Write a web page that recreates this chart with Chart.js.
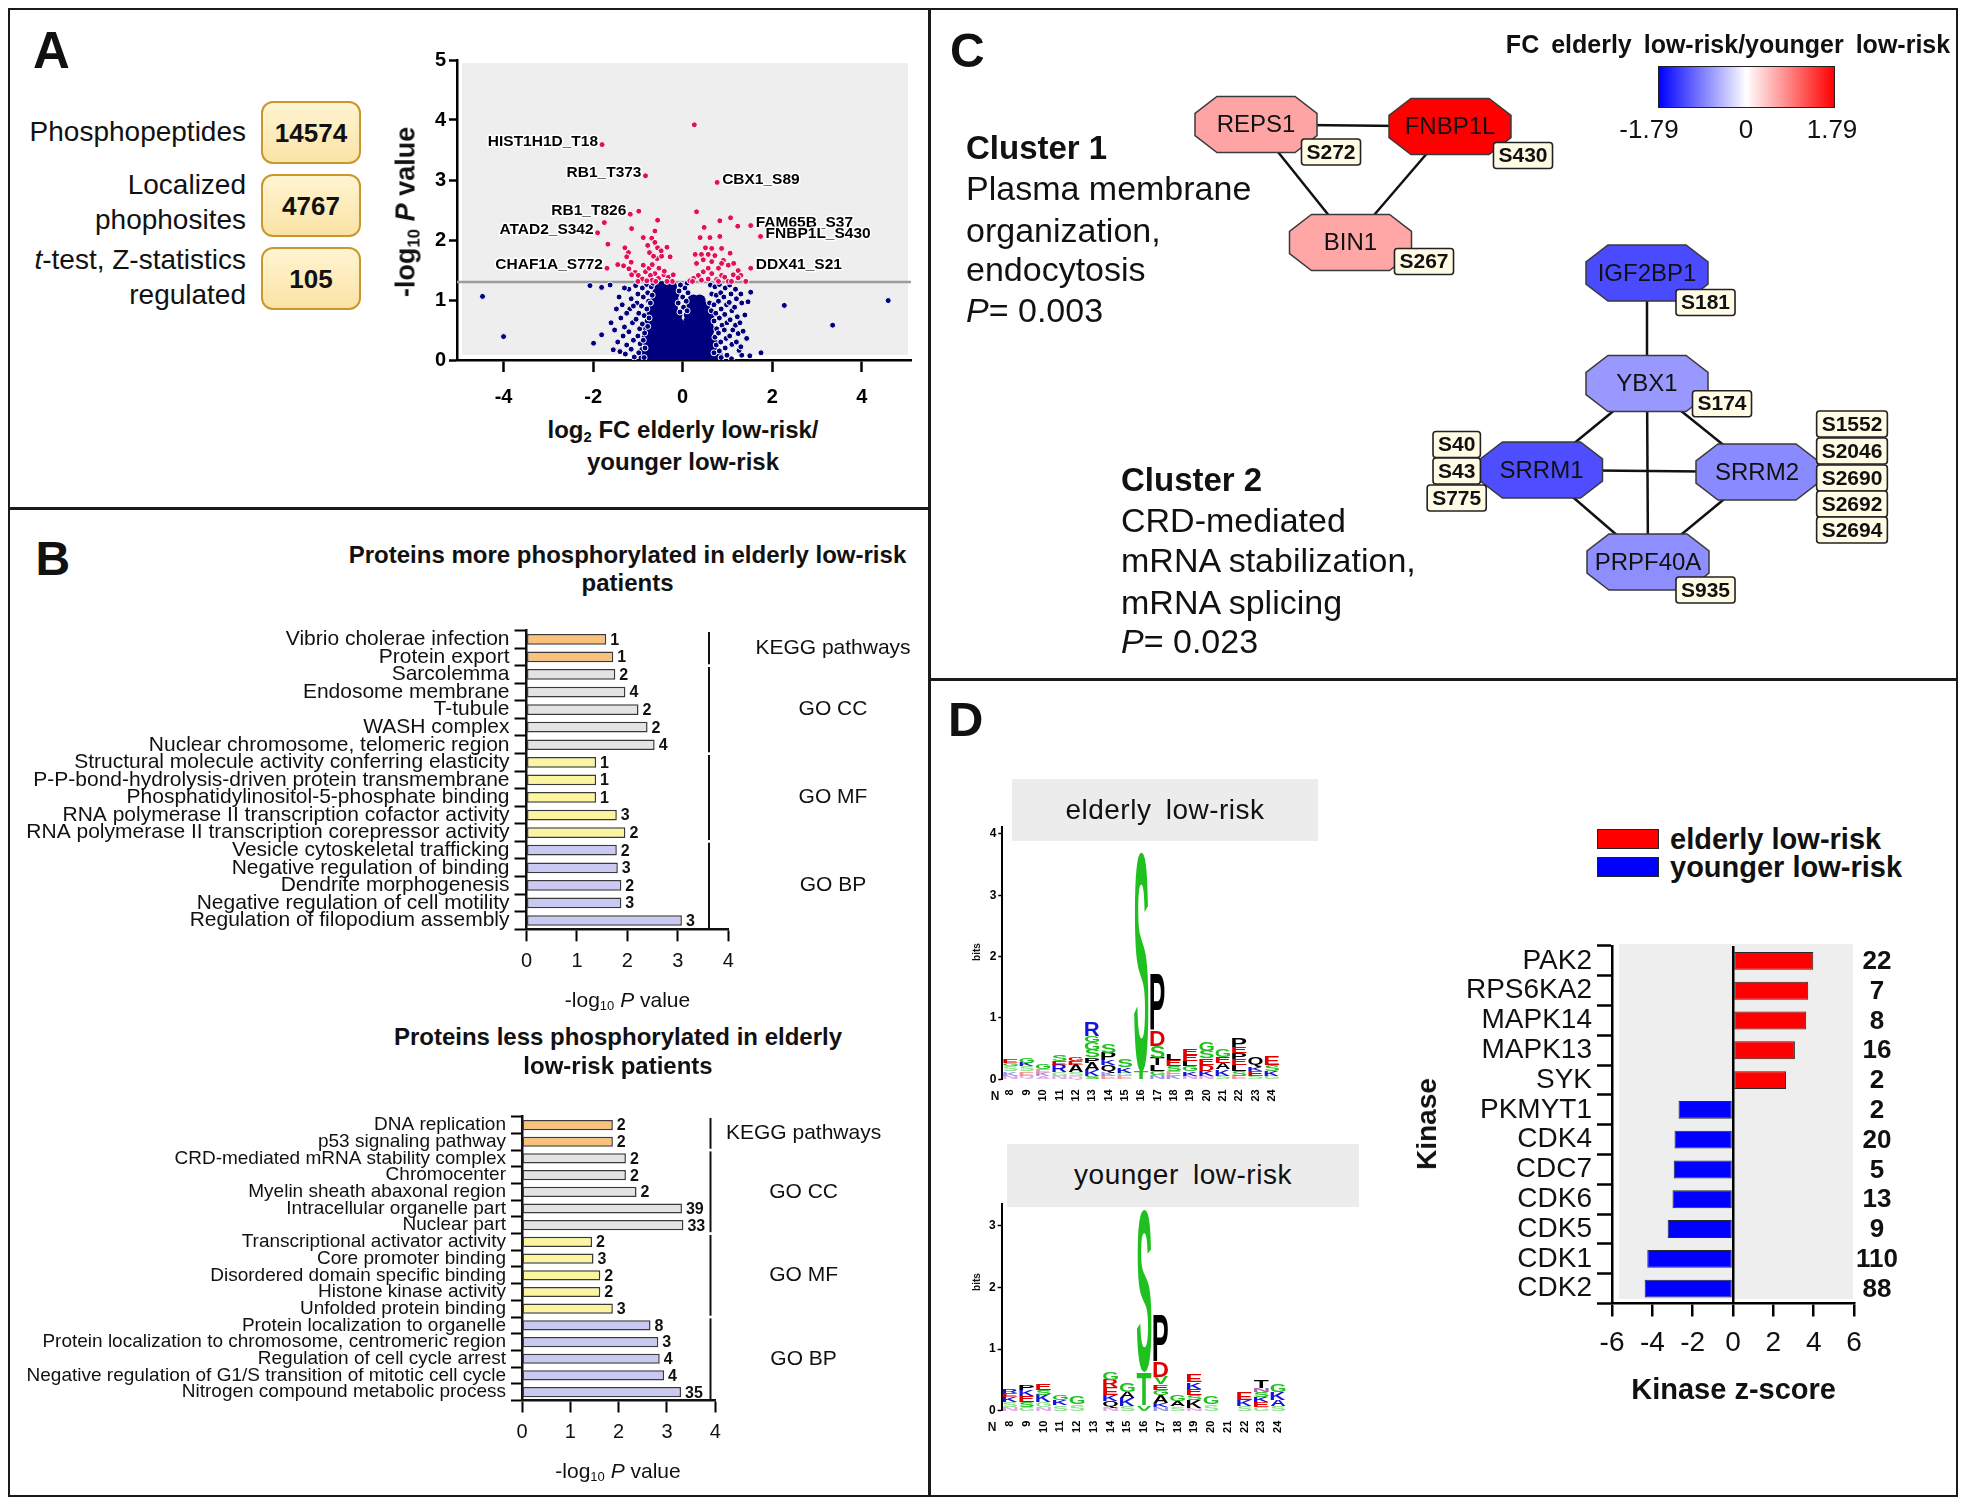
<!DOCTYPE html>
<html>
<head>
<meta charset="utf-8">
<title>Phosphoproteome figure</title>
<script src="https://cdn.jsdelivr.net/npm/chart.js@4.4.1/dist/chart.umd.min.js"></script>
<style>
  html, body { margin: 0; padding: 0; background: #fff; }
  body { position: relative; width: 1965px; height: 1506px; overflow: hidden; font-family: "Liberation Sans", Arial, sans-serif; color: #111; }
  canvas { position: absolute; }
  .t { position: absolute; white-space: nowrap; line-height: 1; }
  .t sub { font-size: 0.62em; vertical-align: -0.28em; line-height: 0; }
  .line { position: absolute; background: #1a1a1a; }
  .cnt { position: absolute; box-sizing: border-box; border: 2px solid #c8972e; border-radius: 12px; background: linear-gradient(#fff4d2, #fbe3a6); }
  .hdr { position: absolute; background: #ececec; }
  .key { position: absolute; box-sizing: border-box; border: 1.5px solid #222; }
</style>
</head>
<body>
<div style="position:absolute;left:8px;top:8px;width:1950px;height:1489px;box-sizing:border-box;border:2.5px solid #1a1a1a"></div>
<div class="line" style="left:928px;top:8px;width:2.5px;height:1489px"></div>
<div class="line" style="left:8px;top:507px;width:921px;height:2.5px"></div>
<div class="line" style="left:929px;top:678px;width:1029px;height:2.5px"></div>

<div class="cnt" style="left:261px;top:101px;width:100px;height:63px"></div>
<div class="cnt" style="left:261px;top:174px;width:100px;height:63px"></div>
<div class="cnt" style="left:261px;top:247px;width:100px;height:63px"></div>

<div class="hdr" style="left:1012px;top:779px;width:306px;height:62px"></div>
<div class="hdr" style="left:1007px;top:1144px;width:352px;height:63px"></div>

<div class="key" style="left:1658px;top:66px;width:177px;height:42px;background:linear-gradient(to right,#0000ff,#ffffff,#ff0000)"></div>
<div class="key" style="left:1597px;top:829px;width:62px;height:20px;background:#ff0000"></div>
<div class="key" style="left:1597px;top:857px;width:62px;height:20px;background:#0000ff"></div>

<canvas id="volcano" width="545" height="370" style="left:380px;top:45px"></canvas>
<canvas id="goUp" width="913" height="410" style="left:12px;top:600px"></canvas>
<canvas id="goDown" width="913" height="410" style="left:12px;top:1085px"></canvas>
<canvas id="network" width="1024" height="665" style="left:931px;top:12px"></canvas>
<canvas id="logo1" width="340" height="295" style="left:960px;top:815px"></canvas>
<canvas id="logo2" width="340" height="250" style="left:960px;top:1195px"></canvas>
<canvas id="kinase" width="515" height="500" style="left:1440px;top:920px"></canvas>

<script>
// ---- Panel A: counts ----
const countLabels = [['Phosphopeptides'], ['Localized', 'phophosites'], ['<i>t</i>-test, Z-statistics', 'regulated']];
const countValues = ['14574', '4767', '105'];

// ---- Panel A: volcano plot (log2 FC, -log10 P) ----
const volcanoXTicks = [-4, -2, 0, 2, 4];
const pThreshold = 1.3;
const sigPoints = [
  [0.26,3.92],[-1.80,3.59],[-0.83,3.07],[0.77,2.96],[-1.17,2.43],[-0.98,2.48],[0.31,2.47],[-0.56,2.33],
  [-1.75,2.29],[-1.90,2.12],[-1.67,1.93],[-1.69,1.53],[-1.14,2.19],[-0.62,2.15],[-0.88,2.04],[-0.69,2.03],
  [-0.62,1.96],[-0.78,1.91],[-0.56,1.87],[-0.74,1.79],[-1.29,1.87],[-1.21,1.79],[-1.25,1.72],[-1.15,1.63],
  [-1.32,1.57],[-1.20,1.52],[-1.06,1.46],[-0.99,1.41],[-0.90,1.35],[-0.83,1.47],[-0.75,1.53],[-0.68,1.59],
  [-0.57,1.69],[-0.47,1.73],[-0.35,1.88],[-0.28,1.72],[-0.53,1.53],[-0.62,1.44],[-0.72,1.41],[-0.68,1.33],
  [-0.54,1.36],[-0.42,1.42],[-0.32,1.38],[-0.23,1.31],[-0.35,1.31],[-0.60,1.31],[-0.80,1.32],[-1.00,1.31],
  [-1.14,1.42],[-0.88,1.58],[-0.65,1.73],[-0.48,1.82],[-1.45,1.59],[-0.41,1.48],[-0.21,1.42],
  [0.48,2.21],[0.83,2.32],[1.07,2.37],[1.23,2.23],[1.52,2.24],[1.74,2.06],[0.39,2.04],[0.61,2.04],
  [0.83,2.06],[0.51,1.87],[0.65,1.86],[0.87,1.86],[0.42,1.76],[0.72,1.74],[1.06,1.78],[0.28,1.76],
  [0.31,1.61],[0.46,1.67],[0.57,1.53],[0.80,1.53],[1.02,1.58],[0.65,1.44],[0.87,1.41],[0.46,1.47],
  [0.35,1.41],[0.24,1.36],[0.16,1.32],[0.42,1.33],[0.57,1.35],[0.76,1.34],[0.94,1.38],[1.13,1.42],
  [1.24,1.49],[1.30,1.41],[1.52,1.53],[1.41,1.31],[0.80,1.31],[1.02,1.31],[0.22,1.31],[0.65,1.64],
  [0.91,1.66],[1.14,1.61],[0.57,1.76],[0.87,1.61],[1.24,1.37],[1.09,1.31]
];
const nsCore = [
  [-0.85,0.04],[-0.7,0.04],[-0.55,0.04],[-0.4,0.04],[-0.25,0.04],[-0.1,0.04],[0.05,0.04],[0.2,0.04],[0.35,0.04],[0.5,0.04],[0.65,0.04],[0.78,0.04],
  [-0.84,0.15],[-0.69,0.15],[-0.54,0.15],[-0.39,0.15],[-0.24,0.15],[-0.09,0.15],[0.06,0.15],[0.21,0.15],[0.36,0.15],[0.51,0.15],[0.66,0.15],
  [-0.82,0.27],[-0.67,0.27],[-0.52,0.27],[-0.37,0.27],[-0.22,0.27],[-0.07,0.27],[0.08,0.27],[0.23,0.27],[0.38,0.27],[0.53,0.27],[0.66,0.27],
  [-0.78,0.39],[-0.63,0.39],[-0.48,0.39],[-0.33,0.39],[-0.18,0.39],[-0.03,0.39],[0.12,0.39],[0.27,0.39],[0.42,0.39],[0.57,0.39],
  [-0.75,0.51],[-0.6,0.51],[-0.45,0.51],[-0.3,0.51],[-0.15,0.51],[0.0,0.51],[0.15,0.51],[0.3,0.51],[0.45,0.51],[0.58,0.51],
  [-0.72,0.63],[-0.57,0.63],[-0.42,0.63],[-0.27,0.63],[-0.12,0.63],[0.14,0.63],[0.28,0.63],[0.42,0.63],[0.56,0.63],
  [-0.68,0.75],[-0.54,0.75],[-0.4,0.75],[-0.26,0.75],[-0.14,0.75],[0.16,0.75],[0.3,0.75],[0.44,0.75],[0.58,0.75],
  [-0.64,0.87],[-0.5,0.87],[-0.37,0.87],[-0.24,0.87],[0.2,0.87],[0.34,0.87],[0.48,0.87],
  [-0.6,0.99],[-0.47,0.99],[-0.34,0.99],[-0.22,0.99],[0.24,0.99],[0.38,0.99],
  [-0.55,1.11],[-0.42,1.11],[-0.3,1.11],[-0.2,1.11],
  [-0.5,1.22],[-0.38,1.22],[-0.26,1.22]
];
const nsScatter = [
  [-4.47,1.06],[-4.00,0.39],[4.59,0.99],[3.35,0.58],[2.27,0.91],[1.75,0.12],[-2.07,1.24],[-1.81,1.21],
  [-1.62,1.25],[-1.99,0.28],[-1.81,0.42],[-1.55,0.17],[-1.40,0.14],[1.52,1.13],[1.46,0.97],[1.39,0.75],
  [1.43,0.36],[1.32,0.08],[1.09,0.02],[1.50,0.07],
  [-1.42,1.05],[-1.35,0.92],[-1.38,0.7],[-1.3,0.55],[-1.33,0.4],[-1.25,0.25],[-1.28,0.1],
  [-1.2,1.18],[-1.15,1.02],[-1.18,0.85],[-1.12,0.62],[-1.2,0.47],[-1.1,0.33],[-1.15,0.18],[-1.08,0.05],
  [-1.05,1.24],[-1.0,1.1],[-1.02,0.95],[-0.98,0.78],[-1.04,0.68],[-0.96,0.52],[-1.0,0.4],[-0.95,0.27],[-0.98,0.12],
  [-0.9,1.2],[-0.88,1.05],[-0.92,0.9],[-0.86,0.74],[-0.9,0.6],[-0.85,0.45],[-0.88,0.33],[-0.84,0.2],[-0.86,0.04],
  [-0.8,1.26],[-0.78,1.12],[-0.76,0.98],[-0.8,0.85],[-0.75,0.7],[-0.78,0.56],
  [-0.7,1.22],[-0.68,1.08],[-0.72,0.95],[-0.66,1.28],
  [-1.48,0.85],[-1.52,0.5],[-1.45,0.3],[-1.6,0.62],[-1.25,0.78],[-1.3,1.2],[-1.1,0.9],
  [0.62,1.25],[0.65,1.1],[0.6,0.95],[0.64,0.82],
  [0.72,1.22],[0.75,1.08],[0.7,0.92],[0.74,0.78],[0.7,0.65],[0.76,0.52],[0.72,0.38],[0.75,0.25],[0.7,0.12],
  [0.82,1.26],[0.85,1.12],[0.8,0.98],[0.86,0.85],[0.82,0.7],[0.88,0.58],[0.8,0.45],[0.85,0.3],[0.82,0.15],[0.86,0.04],
  [0.95,1.2],[0.92,1.05],[0.98,0.92],[0.94,0.76],[0.99,0.62],[0.93,0.5],[0.97,0.36],[0.95,0.2],[0.99,0.08],
  [1.05,1.25],[1.08,1.1],[1.04,0.96],[1.1,0.82],[1.06,0.67],[1.12,0.5],[1.05,0.4],[1.1,0.26],
  [1.18,1.18],[1.2,1.02],[1.16,0.88],[1.22,0.72],[1.18,0.58],[1.24,0.44],[1.2,0.3],[1.26,0.16],
  [1.3,1.1],[1.32,0.95],[1.28,0.62],[1.35,0.48],[1.3,0.22],
  [0.1,1.28],[0.05,1.2],[-0.05,1.25],[0.12,1.12],[-0.08,1.15],[0.0,1.05],[0.08,0.98],[-0.1,0.95],[0.02,0.88],[0.1,0.82],[-0.06,0.8]
];
const siteLabels = ['HIST1H1D_T18', 'RB1_T373', 'CBX1_S89', 'RB1_T826', 'ATAD2_S342', 'CHAF1A_S772', 'FAM65B_S37', 'FNBP1L_S430', 'DDX41_S21'];
const siteLabelX = [-1.80, -0.83, 0.77, -1.17, -1.90, -1.69, 1.52, 1.74, 1.52];
const siteLabelY = [3.59, 3.07, 2.96, 2.43, 2.12, 1.53, 2.24, 2.06, 1.53];
const siteLabelSide = ['l', 'l', 'r', 'l', 'l', 'l', 'r', 'r', 'r'];

// ---- Panel B: enrichment ----
const upTerms = ['Vibrio cholerae infection', 'Protein export', 'Sarcolemma', 'Endosome membrane', 'T-tubule', 'WASH complex',
  'Nuclear chromosome, telomeric region', 'Structural molecule activity conferring elasticity', 'P-P-bond-hydrolysis-driven protein transmembrane',
  'Phosphatidylinositol-5-phosphate binding', 'RNA polymerase II transcription cofactor activity', 'RNA polymerase II transcription corepressor activity',
  'Vesicle cytoskeletal trafficking', 'Negative regulation of binding', 'Dendrite morphogenesis', 'Negative regulation of cell motility',
  'Regulation of filopodium assembly'];
const upLogP = [1.58, 1.72, 1.76, 1.96, 2.22, 2.40, 2.54, 1.38, 1.38, 1.38, 1.79, 1.96, 1.79, 1.81, 1.88, 1.88, 3.08];
const upCounts = [1, 1, 2, 4, 2, 2, 4, 1, 1, 1, 3, 2, 2, 3, 2, 3, 3];
const downTerms = ['DNA replication', 'p53 signaling pathway', 'CRD-mediated mRNA stability complex', 'Chromocenter', 'Myelin sheath abaxonal region',
  'Intracellular organelle part', 'Nuclear part', 'Transcriptional activator activity', 'Core promoter binding', 'Disordered domain specific binding',
  'Histone kinase activity', 'Unfolded protein binding', 'Protein localization to organelle', 'Protein localization to chromosome, centromeric region',
  'Regulation of cell cycle arrest', 'Negative regulation of G1/S transition of mitotic cell cycle', 'Nitrogen compound metabolic process'];
const downLogP = [1.88, 1.88, 2.15, 2.15, 2.37, 3.31, 3.34, 1.45, 1.48, 1.62, 1.62, 1.88, 2.66, 2.82, 2.85, 2.94, 3.29];
const downCounts = [2, 2, 2, 2, 2, 39, 33, 2, 3, 2, 2, 3, 8, 3, 4, 4, 35];
const groupNames = ['KEGG pathways', 'GO CC', 'GO MF', 'GO BP'];
const groupStart = [0, 2, 7, 12];
const groupEnd = [1, 6, 11, 16];
const groupColors = ['#f8c27c', '#e3e3e3', '#faf59e', '#c9c9f4'];

// ---- Panel C: network ----
const nodeNames = ['REPS1', 'FNBP1L', 'BIN1', 'IGF2BP1', 'YBX1', 'SRRM1', 'SRRM2', 'PRPF40A'];
const nodeFC = [0.64, 1.79, 0.62, -1.27, -0.72, -1.24, -0.82, -0.79];
const nodeX = [325, 519, 419.5, 716, 716, 610.5, 826, 717];
const nodeY = [112.5, 114.5, 230.5, 261, 371.5, 458, 460, 550];
const edges = [[0, 1], [0, 2], [1, 2], [3, 4], [4, 5], [4, 6], [4, 7], [5, 6], [5, 7], [6, 7]];
const sites = ['S272', 'S430', 'S267', 'S181', 'S174', 'S40', 'S43', 'S775', 'S1552', 'S2046', 'S2690', 'S2692', 'S2694', 'S935'];
const siteX = [400, 592, 493, 774.5, 791, 525.7, 525.7, 525.7, 921, 921, 921, 921, 921, 774.5];
const siteY = [140, 143.5, 249.5, 290.5, 391.7, 432.5, 459, 486, 412, 439, 466, 492, 518, 578];

// ---- Panel D: sequence logos (bits per letter, bottom to top) ----
const logoPositions = ['8','9','10','11','12','13','14','15','16','17','18','19','20','21','22','23','24'];
const elderlyLogo = [
  [['N',.06,'lp'],['K',.07,'lb'],['S',.08,'lg'],['G',.05,'g'],['E',.07,'r']],
  [['Q',.06,'lp'],['E',.07,'lr'],['S',.08,'lg'],['K',.06,'b'],['G',.09,'g']],
  [['A',.05,'lp'],['K',.06,'lb'],['E',.06,'lr'],['G',.09,'g']],
  [['N',.06,'lp'],['G',.06,'lg'],['R',.12,'b'],['E',.06,'r'],['S',.10,'g']],
  [['Q',.05,'lp'],['S',.07,'lg'],['A',.12,'k'],['E',.06,'r'],['G',.07,'r']],
  [['S',.05,'g'],['K',.10,'b'],['A',.12,'k'],['P',.09,'k'],['S',.12,'g'],['G',.13,'g'],['G',.10,'g'],['R',.23,'b']],
  [['E',.05,'lr'],['K',.06,'lb'],['Q',.12,'k'],['K',.08,'b'],['P',.12,'k'],['S',.15,'g']],
  [['E',.05,'lr'],['G',.06,'lg'],['K',.09,'b'],['S',.12,'g']],
  [['T',.12,'g'],['S',3.58,'g']],
  [['N',.07,'lb'],['G',.06,'g'],['L',.10,'k'],['T',.12,'k'],['S',.20,'g'],['D',.25,'r'],['P',.90,'k']],
  [['K',.06,'lb'],['E',.08,'lr'],['S',.08,'g'],['E',.10,'r'],['L',.10,'k']],
  [['N',.06,'lp'],['K',.07,'b'],['G',.08,'g'],['L',.09,'k'],['E',.10,'r'],['E',.10,'r']],
  [['N',.06,'lp'],['K',.08,'b'],['D',.10,'r'],['E',.10,'r'],['S',.12,'g'],['G',.14,'g']],
  [['S',.06,'lg'],['K',.10,'b'],['A',.10,'k'],['E',.10,'r'],['G',.12,'g']],
  [['E',.05,'lr'],['S',.08,'g'],['L',.10,'k'],['E',.10,'r'],['P',.10,'k'],['E',.10,'r'],['P',.14,'k']],
  [['S',.06,'lg'],['E',.08,'r'],['K',.06,'b'],['Q',.16,'k']],
  [['G',.06,'lg'],['K',.08,'b'],['S',.10,'g'],['E',.14,'r']]
];
const youngerLogo = [
  [['N',.06,'lp'],['S',.08,'lg'],['K',.08,'b'],['E',.07,'r'],['R',.07,'b']],
  [['G',.06,'lg'],['S',.08,'g'],['E',.10,'r'],['K',.10,'b'],['P',.08,'k']],
  [['N',.06,'lp'],['G',.08,'lg'],['K',.12,'b'],['S',.08,'g'],['E',.10,'r']],
  [['S',.09,'lg'],['K',.09,'b'],['G',.09,'g']],
  [['S',.10,'lg'],['G',.12,'g']],
  [],
  [['N',.06,'lp'],['Q',.10,'k'],['K',.10,'b'],['E',.12,'r'],['R',.12,'r'],['G',.12,'g']],
  [['S',.08,'lg'],['K',.12,'b'],['A',.10,'k'],['G',.14,'g']],
  [['V',.09,'g'],['T',.53,'g'],['S',2.63,'g']],
  [['N',.06,'lb'],['K',.07,'b'],['A',.13,'k'],['G',.08,'g'],['E',.09,'r'],['V',.12,'g'],['D',.25,'r'],['P',.75,'k']],
  [['S',.07,'lg'],['A',.08,'k'],['G',.10,'g']],
  [['N',.05,'lp'],['K',.13,'k'],['S',.08,'g'],['E',.10,'r'],['K',.10,'b'],['E',.12,'r']],
  [['S',.10,'lg'],['G',.12,'g']],
  [],
  [['S',.08,'lg'],['K',.10,'b'],['E',.13,'r']],
  [['G',.06,'lg'],['E',.08,'r'],['K',.08,'b'],['S',.08,'g'],['N',.07,'p'],['T',.13,'k']],
  [['S',.08,'lg'],['A',.10,'b'],['K',.12,'b'],['G',.12,'g']]
];
const letterColors = { g: '#1fc01f', r: '#e00000', b: '#1414dc', k: '#000000', p: '#b060b0', lg: '#8ee08e', lr: '#f09494', lb: '#9494f0', lp: '#e2a6e2' };

// ---- Panel D: kinase z-scores ----
const kinases = ['PAK2', 'RPS6KA2', 'MAPK14', 'MAPK13', 'SYK', 'PKMYT1', 'CDK4', 'CDC7', 'CDK6', 'CDK5', 'CDK1', 'CDK2'];
const zScores = [3.98, 3.73, 3.63, 3.07, 2.63, -2.70, -2.90, -2.94, -3.00, -3.24, -4.25, -4.38];
const substrateCounts = [22, 7, 8, 16, 2, 2, 20, 5, 13, 9, 110, 88];
const kinaseTicks = [-6, -4, -2, 0, 2, 4, 6];

const FONT = '"Liberation Sans", Arial, Helvetica, sans-serif';
Chart.defaults.font.family = FONT;
Chart.defaults.color = '#111';

function txt(html, x, y, size, opt) {
  opt = opt || {};
  const d = document.createElement('div');
  d.className = 't';
  d.innerHTML = html;
  d.style.left = x + 'px';
  d.style.top = y + 'px';
  d.style.fontSize = size + 'px';
  if (opt.bold) d.style.fontWeight = 'bold';
  if (opt.ls) d.style.letterSpacing = opt.ls + 'px';
  if (opt.ws) d.style.wordSpacing = opt.ws + 'px';
  if (opt.color) d.style.color = opt.color;
  const tx = opt.align === 'left' ? '0' : opt.align === 'right' ? '-100%' : '-50%';
  d.style.transform = 'translate(' + tx + ',-50%)' + (opt.rot ? ' rotate(' + opt.rot + 'deg)' : '');
  document.body.appendChild(d);
}

function pts(arr) { return arr.map(p => ({ x: p[0], y: p[1] })); }

function areaFill(color, inset) {
  return {
    id: 'areaFill',
    beforeDraw(chart) {
      const a = chart.chartArea, ctx = chart.ctx;
      ctx.save();
      ctx.fillStyle = color;
      ctx.fillRect(a.left + inset[0], a.top + inset[1], a.right - a.left - inset[0] - inset[2], a.bottom - a.top - inset[1] - inset[3]);
      ctx.restore();
    }
  };
}

const axisGrid = (len, w) => ({ drawOnChartArea: false, tickLength: len, tickWidth: w, tickColor: '#000' });

// ---------- volcano ----------
const volcanoLabelPlugin = {
  id: 'volcanoLabels',
  afterDatasetsDraw(chart) {
    const ctx = chart.ctx, xs = chart.scales.x, ys = chart.scales.y;
    ctx.save();
    ctx.font = 'bold 15.5px ' + FONT;
    ctx.textBaseline = 'middle';
    ctx.lineJoin = 'round';
    siteLabels.forEach((name, i) => {
      const px = xs.getPixelForValue(siteLabelX[i]), py = ys.getPixelForValue(siteLabelY[i]) - 3;
      const left = siteLabelSide[i] === 'l';
      ctx.textAlign = left ? 'right' : 'left';
      const tx = left ? px - 4 : px + 5;
      ctx.strokeStyle = '#fff'; ctx.lineWidth = 3;
      ctx.strokeText(name, tx, py);
      ctx.fillStyle = '#000';
      ctx.fillText(name, tx, py);
    });
    ctx.restore();
  }
};

new Chart(document.getElementById('volcano'), {
  type: 'scatter',
  data: {
    datasets: [
      { type: 'line', data: [{ x: -5.04, y: pThreshold }, { x: 5.1, y: pThreshold }], borderColor: '#9c9c9c', borderWidth: 2.5, pointRadius: 0, order: 4 },
      { data: pts(nsCore), backgroundColor: '#00007f', borderWidth: 0, pointRadius: 6, order: 3 },
      { data: pts(nsScatter), backgroundColor: '#00007f', borderColor: '#ffffff', borderWidth: 1, pointRadius: 3, order: 2 },
      { data: pts(sigPoints), backgroundColor: '#e0115a', borderColor: '#ffffff', borderWidth: 1, pointRadius: 3, order: 1 }
    ]
  },
  options: {
    responsive: false, animation: false,
    layout: { padding: { top: 15, right: 14, left: 0, bottom: 0 } },
    plugins: { legend: { display: false }, tooltip: { enabled: false } },
    scales: {
      x: {
        type: 'linear', min: -5.04, max: 5.1,
        afterBuildTicks: s => { s.ticks = volcanoXTicks.map(v => ({ value: v })); },
        ticks: { font: { size: 20, weight: 'bold' }, color: '#000', padding: 13, maxRotation: 0 },
        grid: axisGrid(12, 2.5), border: { color: '#000', width: 2.5 },
        afterFit: s => { s.height = 55; }
      },
      y: {
        min: 0, max: 5,
        ticks: { stepSize: 1, font: { size: 20, weight: 'bold' }, color: '#000', padding: 3 },
        grid: axisGrid(8, 2.5), border: { color: '#000', width: 2.5 },
        afterFit: s => { s.width = 77; }
      }
    }
  },
  plugins: [areaFill('#eeeeee', [5, 3, 3, 5]), volcanoLabelPlugin]
});

// ---------- enrichment bars ----------
function goExtras(counts, bracketX, labelX) {
  return {
    id: 'goExtras',
    afterDatasetsDraw(chart) {
      const ctx = chart.ctx, ys = chart.scales.y;
      const band = ys.height / chart.data.labels.length;
      ctx.save();
      ctx.fillStyle = '#111';
      ctx.textBaseline = 'middle';
      ctx.font = 'bold 16px ' + FONT;
      ctx.textAlign = 'left';
      chart.getDatasetMeta(0).data.forEach((bar, i) => ctx.fillText(String(counts[i]), bar.x + 4, bar.y + 1));
      ctx.strokeStyle = '#111';
      ctx.lineWidth = 2;
      ctx.font = '21px ' + FONT;
      ctx.textAlign = 'center';
      groupNames.forEach((g, k) => {
        const y0 = ys.getPixelForValue(groupStart[k]) - band * 0.42;
        const y1 = ys.getPixelForValue(groupEnd[k]) + band * 0.42;
        ctx.beginPath(); ctx.moveTo(bracketX, y0); ctx.lineTo(bracketX, y1); ctx.stroke();
        ctx.fillText(g, labelX, (y0 + y1) / 2);
      });
      ctx.restore();
    }
  };
}

function groupOf(i) {
  for (let k = groupStart.length - 1; k >= 0; k--) if (i >= groupStart[k]) return k;
  return 0;
}

function goChart(id, terms, values, counts, g) {
  new Chart(document.getElementById(id), {
    type: 'bar',
    data: {
      labels: terms,
      datasets: [{
        data: values,
        backgroundColor: terms.map((_, i) => groupColors[groupOf(i)]),
        borderColor: '#3a3a3a', borderWidth: 1.5, borderSkipped: false,
        barPercentage: 0.61, categoryPercentage: 1
      }]
    },
    options: {
      indexAxis: 'y', responsive: false, animation: false,
      layout: { padding: { top: g.padTop, right: g.padRight, left: 0, bottom: 0 } },
      plugins: { legend: { display: false }, tooltip: { enabled: false } },
      scales: {
        x: {
          min: 0, max: 4,
          ticks: { stepSize: 1, font: { size: 20 }, color: '#111', padding: 8 },
          grid: axisGrid(12, 2), border: { color: '#111', width: 2.5 },
          afterFit: s => { s.height = g.xh; }
        },
        y: {
          ticks: { font: { size: g.font }, color: '#111', padding: 5, autoSkip: false },
          grid: axisGrid(g.tick, 2), border: { color: '#111', width: 2.5 },
          afterFit: s => { s.width = g.yw; }
        }
      }
    },
    plugins: [goExtras(counts, g.bracketX, g.labelX)]
  });
}

goChart('goUp', upTerms, upLogP, upCounts, { padTop: 30.5, padRight: 196.7, xh: 80.7, yw: 514.5, font: 21, tick: 12, bracketX: 697, labelX: 821 });
goChart('goDown', downTerms, downLogP, downCounts, { padTop: 31.7, padRight: 209.7, xh: 94.5, yw: 510, font: 19, tick: 11, bracketX: 698.5, labelX: 791.6 });

// ---------- network ----------
function fcColor(v) {
  const t = Math.min(1, Math.abs(v) / 1.79);
  const c = Math.round(255 * (1 - t));
  return v >= 0 ? 'rgb(255,' + c + ',' + c + ')' : 'rgb(' + c + ',' + c + ',255)';
}

function octagon(ctx, cx, cy, w, h) {
  const dx = w * 0.18, dy = h * 0.3, l = cx - w / 2, r = cx + w / 2, t = cy - h / 2, b = cy + h / 2;
  ctx.beginPath();
  ctx.moveTo(l + dx, t); ctx.lineTo(r - dx, t); ctx.lineTo(r, t + dy); ctx.lineTo(r, b - dy);
  ctx.lineTo(r - dx, b); ctx.lineTo(l + dx, b); ctx.lineTo(l, b - dy); ctx.lineTo(l, t + dy);
  ctx.closePath();
}

const networkPlugin = {
  id: 'network',
  afterDatasetsDraw(chart) {
    const ctx = chart.ctx, xs = chart.scales.x, ys = chart.scales.y;
    ctx.save();
    nodeNames.forEach((n, i) => {
      const cx = xs.getPixelForValue(nodeX[i]), cy = ys.getPixelForValue(nodeY[i]);
      octagon(ctx, cx, cy, 122, 56);
      ctx.fillStyle = fcColor(nodeFC[i]);
      ctx.fill();
      ctx.strokeStyle = '#3a3a3a'; ctx.lineWidth = 1.5; ctx.stroke();
      ctx.fillStyle = '#111';
      ctx.font = '24px ' + FONT;
      ctx.textAlign = 'center'; ctx.textBaseline = 'middle';
      ctx.fillText(n, cx, cy + 1);
    });
    ctx.font = 'bold 21px ' + FONT;
    sites.forEach((s, i) => {
      const cx = xs.getPixelForValue(siteX[i]), cy = ys.getPixelForValue(siteY[i]);
      const w = ctx.measureText(s).width + 10, h = 26;
      ctx.beginPath();
      ctx.roundRect(cx - w / 2, cy - h / 2, w, h, 3);
      ctx.fillStyle = '#fffbe4'; ctx.fill();
      ctx.strokeStyle = '#222'; ctx.lineWidth = 1.6; ctx.stroke();
      ctx.fillStyle = '#111';
      ctx.fillText(s, cx, cy + 1);
    });
    ctx.restore();
  }
};

new Chart(document.getElementById('network'), {
  type: 'scatter',
  data: {
    datasets: edges.map(e => ({
      type: 'line',
      data: [{ x: nodeX[e[0]], y: nodeY[e[0]] }, { x: nodeX[e[1]], y: nodeY[e[1]] }],
      borderColor: '#111', borderWidth: 2.5, pointRadius: 0
    })).concat([{ data: nodeNames.map((_, i) => ({ x: nodeX[i], y: nodeY[i] })), pointRadius: 0 }])
  },
  options: {
    responsive: false, animation: false,
    layout: { padding: 0 },
    plugins: { legend: { display: false }, tooltip: { enabled: false } },
    scales: {
      x: { type: 'linear', min: 0, max: 1024, display: false },
      y: { type: 'linear', min: 0, max: 665, reverse: true, display: false }
    }
  },
  plugins: [networkPlugin]
});

// ---------- sequence logos ----------
function drawLetter(ctx, ch, color, x, yTop, w, h) {
  if (h <= 0.3) return;
  ctx.save();
  ctx.font = 'bold 100px ' + FONT;
  const m = ctx.measureText(ch);
  const gw = m.actualBoundingBoxLeft + m.actualBoundingBoxRight;
  const gh = m.actualBoundingBoxAscent + m.actualBoundingBoxDescent;
  ctx.translate(x, yTop);
  ctx.scale(w / gw, h / gh);
  ctx.fillStyle = color;
  ctx.textAlign = 'left';
  ctx.textBaseline = 'alphabetic';
  ctx.fillText(ch, m.actualBoundingBoxLeft, m.actualBoundingBoxAscent);
  ctx.restore();
}

function logoLetters(stacks) {
  return {
    id: 'logoLetters',
    afterDatasetsDraw(chart) {
      const ctx = chart.ctx, xs = chart.scales.x, ys = chart.scales.y;
      const band = xs.width / stacks.length;
      stacks.forEach((stack, i) => {
        const cx = xs.getPixelForValue(i);
        let base = 0;
        stack.forEach(([ch, h, c]) => {
          const y0 = ys.getPixelForValue(base + h), y1 = ys.getPixelForValue(base);
          drawLetter(ctx, ch, letterColors[c], cx - band * 0.44, y0, band * 0.88, y1 - y0);
          base += h;
        });
      });
    }
  };
}

function logoChart(id, stacks, g) {
  new Chart(document.getElementById(id), {
    type: 'bar',
    data: {
      labels: logoPositions,
      datasets: [{ data: stacks.map(s => s.reduce((a, l) => a + l[1], 0)), backgroundColor: 'rgba(0,0,0,0)', categoryPercentage: 1, barPercentage: 0.88 }]
    },
    options: {
      responsive: false, animation: false,
      layout: { padding: { top: g.padTop, right: g.padRight, left: 0, bottom: 0 } },
      plugins: { legend: { display: false }, tooltip: { enabled: false } },
      scales: {
        x: {
          ticks: { font: { size: 11, weight: 'bold' }, color: '#000', minRotation: 90, maxRotation: 90, padding: 2, autoSkip: false },
          grid: { display: false }, border: { display: false },
          afterFit: s => { s.height = g.xh; }
        },
        y: {
          min: 0, max: g.max,
          ticks: { stepSize: 1, includeBounds: false, font: { size: 12, weight: 'bold' }, color: '#000', padding: 2 },
          grid: axisGrid(4, 1.5), border: { color: '#000', width: 2 },
          afterFit: s => { s.width = g.yw; }
        }
      }
    },
    plugins: [logoLetters(stacks)]
  });
}

logoChart('logo1', elderlyLogo, { padTop: 11.5, padRight: 20, xh: 30.7, yw: 42.3, max: 4.12 });
logoChart('logo2', youngerLogo, { padTop: 9, padRight: 13.6, xh: 34.3, yw: 41.6, max: 3.35 });

// ---------- kinase z-scores ----------
const kinaseExtras = {
  id: 'kinaseExtras',
  afterDatasetsDraw(chart) {
    const ctx = chart.ctx, ys = chart.scales.y, a = chart.chartArea;
    ctx.save();
    ctx.font = 'bold 26px ' + FONT;
    ctx.fillStyle = '#111';
    ctx.textAlign = 'center'; ctx.textBaseline = 'middle';
    substrateCounts.forEach((n, i) => ctx.fillText(String(n), a.right + 23, ys.getPixelForValue(i) + 1));
    ctx.restore();
  }
};

new Chart(document.getElementById('kinase'), {
  type: 'bar',
  data: {
    labels: kinases,
    datasets: [{
      data: zScores,
      backgroundColor: zScores.map(v => v > 0 ? '#ff0000' : '#0000ff'),
      borderColor: '#2a2a2a', borderWidth: 1, borderSkipped: false,
      barPercentage: 0.6, categoryPercentage: 1
    }]
  },
  options: {
    indexAxis: 'y', responsive: false, animation: false,
    layout: { padding: { top: 26, right: 101, left: 0, bottom: 0 } },
    plugins: { legend: { display: false }, tooltip: { enabled: false } },
    scales: {
      x: {
        min: -6, max: 6,
        afterBuildTicks: s => { s.ticks = kinaseTicks.map(v => ({ value: v })); },
        ticks: { font: { size: 28 }, color: '#111', padding: 10, maxRotation: 0 },
        grid: { color: c => c.tick && c.tick.value === 0 ? '#000' : 'rgba(0,0,0,0)', lineWidth: 2.5, tickLength: 13, tickWidth: 2.5, tickColor: '#000' },
        border: { color: '#000', width: 2.5 },
        afterFit: s => { s.height = 116.5; }
      },
      y: {
        ticks: { font: { size: 28 }, color: '#111', padding: 5, autoSkip: false },
        grid: axisGrid(15, 2.5), border: { color: '#000', width: 2.5 },
        afterFit: s => { s.width = 172; }
      }
    }
  },
  plugins: [areaFill('#eeeeee', [7, -2, 1, 4.5]), kinaseExtras]
});

// ---------- text ----------
txt('A', 33, 50, 51, { bold: true, align: 'left' });
txt('B', 35.6, 559, 48, { bold: true, align: 'left' });
txt('C', 950, 51, 48, { bold: true, align: 'left' });
txt('D', 948, 718.5, 49, { bold: true, align: 'left' });

const countRowY = [[131.7], [185, 220], [260, 295]];
const countBoxY = [132.5, 205.5, 278.5];
countLabels.forEach((lines, i) => {
  lines.forEach((l, j) => txt(l, 246, countRowY[i][j], 28, { align: 'right' }));
  txt(countValues[i], 311, countBoxY[i], 26, { bold: true });
});

txt('-log<sub>10</sub> <i>P</i> value', 406, 211.7, 27, { bold: true, rot: -90 });
txt('log<sub>2</sub> FC elderly low-risk/', 683, 430, 24, { bold: true });
txt('younger low-risk', 683, 461.7, 24, { bold: true });

txt('Proteins more phosphorylated in elderly low-risk', 627.5, 555, 24, { bold: true });
txt('patients', 627.5, 583.3, 24, { bold: true });
txt('-log<sub>10</sub> <i>P</i> value', 627.5, 999, 21);
txt('Proteins less phosphorylated in elderly', 618, 1037, 24, { bold: true });
txt('low-risk patients', 618, 1065.6, 24, { bold: true });
txt('-log<sub>10</sub> <i>P</i> value', 618, 1469.5, 21);

txt('FC elderly low-risk/younger low-risk', 1728, 43.6, 25, { bold: true, ws: 5 });
txt('-1.79', 1649, 128.5, 26);
txt('0', 1746, 128.5, 26);
txt('1.79', 1832, 128.5, 26);

txt('Cluster 1', 966, 147, 33, { bold: true, align: 'left' });
['Plasma membrane', 'organization,', 'endocytosis', '<i>P</i>= 0.003'].forEach((l, i) => txt(l, 966, [188, 230, 269, 310][i], 34, { align: 'left' }));
txt('Cluster 2', 1121, 478.5, 33, { bold: true, align: 'left' });
['CRD-mediated', 'mRNA stabilization,', 'mRNA splicing', '<i>P</i>= 0.023'].forEach((l, i) => txt(l, 1121, [520, 560, 601.5, 640.5][i], 34, { align: 'left' }));

txt('elderly low-risk', 1165, 810, 28, { ls: 0.5, ws: 6 });
txt('younger low-risk', 1183, 1175, 28, { ls: 0.5, ws: 6 });
txt('bits', 977, 952, 10, { bold: true, rot: -90 });
txt('bits', 977, 1282, 10, { bold: true, rot: -90 });
txt('N', 995, 1096, 12, { bold: true });
txt('N', 992, 1427, 12, { bold: true });

txt('Kinase', 1427, 1123.5, 28, { bold: true, rot: -90 });
txt('Kinase z-score', 1733.6, 1389, 29, { bold: true });
txt('elderly low-risk', 1670, 839, 29, { bold: true, align: 'left' });
txt('younger low-risk', 1670, 867, 29, { bold: true, align: 'left' });
</script>
</body>
</html>
